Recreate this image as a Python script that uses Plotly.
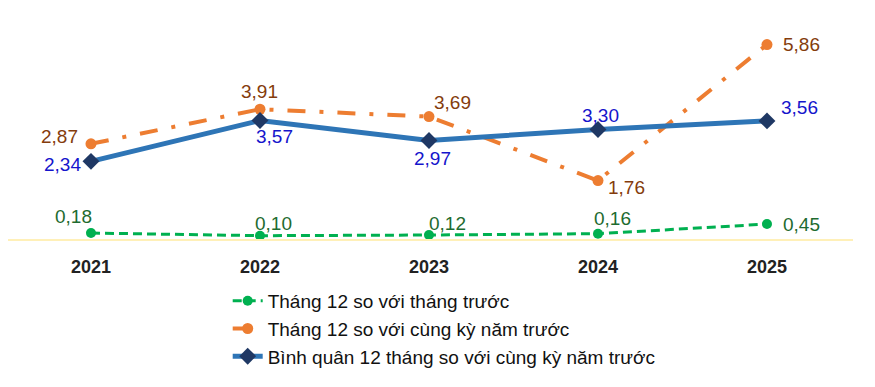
import plotly.graph_objects as go

years = [2021, 2022, 2023, 2024, 2025]
year_labels = ["2021", "2022", "2023", "2024", "2025"]
mom = [0.18, 0.10, 0.12, 0.16, 0.45]
yoy = [2.87, 3.91, 3.69, 1.76, 5.86]
avg = [2.34, 3.57, 2.97, 3.30, 3.56]
names = ["Tháng 12 so với tháng trước",
         "Tháng 12 so với cùng kỳ năm trước",
         "Bình quân 12 tháng so với cùng kỳ năm trước"]

def fmt(v):
    return f"{v:.2f}".replace(".", ",")

fig = go.Figure()
fig.add_trace(go.Scatter(x=years, y=mom, name=names[0], mode="lines+markers",
                         line=dict(color="#00B050", width=3, dash="9px,5px"),
                         marker=dict(symbol="circle", size=10, color="#00B050")))
fig.add_trace(go.Scatter(x=years, y=yoy, name=names[1], mode="lines+markers",
                         line=dict(color="#ED7D31", width=4, dash="18px,14px,4px,14px"),
                         marker=dict(symbol="circle", size=11, color="#ED7D31")))
fig.add_trace(go.Scatter(x=years, y=avg, name=names[2], mode="lines+markers",
                         line=dict(color="#2E75B6", width=5),
                         marker=dict(symbol="diamond", size=13, color="#1F3864")))

green_off = [(-17, 17), (14, 12), (19, 12), (15, 15), (35, 0)]
orange_off = [(-31, 7), (0, 18), (24, 14), (29, -7), (35, 0)]
blue_off = [(-28, -3), (15, -16), (4, -18), (3, 14), (33, 13)]
for vals, offs, col in [(mom, green_off, "#1E6B30"), (yoy, orange_off, "#843C0C"),
                        (avg, blue_off, "#1515CC")]:
    for x, v, (dx, dy) in zip(years, vals, offs):
        fig.add_annotation(x=x, y=v, text=fmt(v), showarrow=False, xshift=dx, yshift=dy,
                           font=dict(size=19, color=col, family="Liberation Sans, Arial"))

fig.update_layout(
    width=875, height=387,
    margin=dict(l=0, r=30, t=13, b=156, autoexpand=False),
    paper_bgcolor="white", plot_bgcolor="white",
    font=dict(family="Liberation Sans, Arial", size=19, color="#222"),
    showlegend=True,
    legend=dict(x=0.26, y=-0.197, xanchor="left", yanchor="top",
                font=dict(size=19, color="#111"), tracegroupgap=0,
                bgcolor="rgba(0,0,0,0)"),
    xaxis=dict(range=[2020.509, 2025.509], tickvals=years, ticktext=year_labels,
               showgrid=False, zeroline=False, showline=True, linecolor="#FFF0B8", linewidth=1.5,
               ticks="outside", ticklen=11, tickcolor="rgba(0,0,0,0)",
               tickfont=dict(size=18, color="#222", family="Liberation Sans, Arial", weight="bold")),
    yaxis=dict(range=[0, 6.57], visible=False, showgrid=False, zeroline=False),
)
fig.write_html("out.html")
